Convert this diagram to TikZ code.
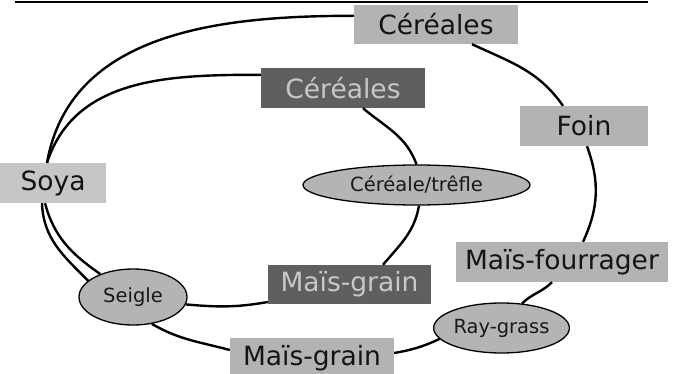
\documentclass[tikz,border=0pt]{standalone}
\usepackage{fontspec}
\setmainfont{DejaVu Sans}
\usepackage{tikz}
\usetikzlibrary{shapes.geometric}
\definecolor{lgray}{HTML}{B3B3B3}
\definecolor{sgray}{HTML}{C6C6C6}
\definecolor{dgray}{HTML}{5F5F5F}
\definecolor{tgray}{HTML}{C8C8C8}
\definecolor{ogray}{HTML}{B4B4B4}
\newcommand{\grand}{\fontsize{26.5}{30}\selectfont}
\newcommand{\petit}{\fontsize{19.5}{22}\selectfont}

\begin{document}
\begin{tikzpicture}[x=1pt,y=1pt,
		lbox/.style={rectangle,fill=lgray,inner sep=0pt,minimum height=40pt,font=\grand,text=black!92},
		dbox/.style={lbox,fill=dgray,text=tgray},
		oval/.style={ellipse,draw,line width=1.3pt,fill=ogray,inner sep=0pt,font=\petit,text=black!90},
		link/.style={line width=2.4pt}]
	\useasboundingbox (0,0) rectangle (680,373);
	\coordinate (rl) at (15,371);
	\coordinate (rr) at (648,371);
	\draw[line width=2.2pt] (rl) -- (rr);

	\node[lbox,fill=sgray,minimum width=106pt] (soya) at (53,190) {Soya};
	\node[lbox,minimum width=164pt,minimum height=39pt] (cer1) at (436,348.5) {Céréales};
	\node[dbox,minimum width=164pt] (cer2) at (343,285) {Céréales};
	\node[lbox,minimum width=128pt] (foin) at (584,247) {Foin};
	\node[oval,minimum width=227pt,minimum height=40pt] (ct) at (416.5,188) {Céréale/trêfle};
	\node[lbox,minimum width=212pt] (mf) at (562,111) {Maïs-fourrager};
	\node[dbox,minimum width=163pt,minimum height=39pt] (mgd) at (349.5,88.5) {Maïs-grain};
	\node[oval,minimum width=108pt,minimum height=56pt] (seigle) at (133,76) {Seigle};
	\node[oval,minimum width=107pt,minimum height=50pt] (rg) at (501.5,45) {Ray-grass};
	\node[lbox,minimum width=164pt] (mg2) at (312,15) {Maïs-grain};

	\draw[link] ([xshift=-6pt]soya.north) to[out=80,in=180] ([yshift=-11pt]cer1.north west);
	\draw[link] ([xshift=36pt]cer1.south) to[out=-25,in=125] ([xshift=-21pt]foin.north);
	\draw[link] ([xshift=3pt]foin.south) to[out=-70,in=65] ([xshift=21pt]mf.north);
	\draw[link] ([xshift=-10pt]mf.south) to[out=-135,in=45] (rg.50);
	\draw[link] (rg.190) to[out=205,in=10] ([yshift=5pt]mg2.east);
	\draw[link] ([yshift=8pt]mg2.west) to[out=165,in=-30] (seigle.-55);
	\draw[link] (seigle.160) to[out=135,in=-88] ([xshift=-11pt]soya.south);

	\draw[link] ([xshift=-6pt]soya.north) to[out=72,in=180] ([yshift=-7pt]cer2.north west);
	\draw[link] ([xshift=20pt]cer2.south) to[out=-40,in=110] (ct.north);
	\draw[link] ([xshift=2.5pt]ct.south) to[out=-100,in=50] ([xshift=33.5pt]mgd.north);
	\draw[link] ([yshift=-17.5pt]mgd.west) to[out=190,in=-5] (seigle.-8);
	\draw[link] (seigle.145) to[out=145,in=-75] ([xshift=-8pt]soya.south);
\end{tikzpicture}
\end{document}
